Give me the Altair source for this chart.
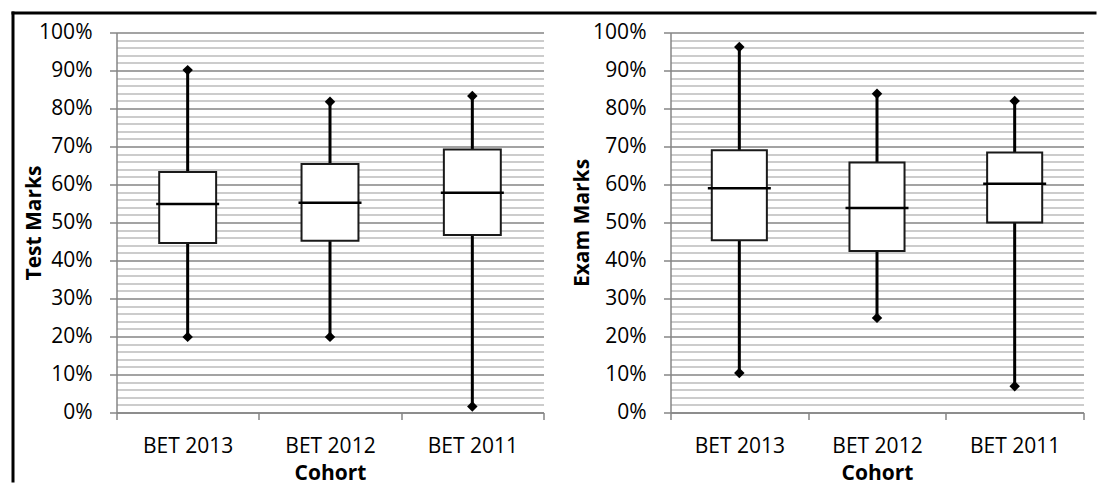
import altair as alt
import pandas as pd

cohorts = ["BET 2013", "BET 2012", "BET 2011"]

test_min = [0.199, 0.199, 0.016]
test_q1 = [0.446, 0.452, 0.467]
test_median = [0.549, 0.552, 0.578]
test_q3 = [0.633, 0.654, 0.692]
test_max = [0.901, 0.818, 0.833]

exam_min = [0.104, 0.249, 0.069]
exam_q1 = [0.453, 0.425, 0.500]
exam_median = [0.590, 0.538, 0.602]
exam_q3 = [0.690, 0.658, 0.684]
exam_max = [0.962, 0.839, 0.820]

y_ticks = [round(i * 0.02, 2) for i in range(51)]

FONT = "Open Sans"
MAJOR = "round(datum.value * 100) % 10 === 0"


def panel(mins, q1s, meds, q3s, maxs, ytitle, width, title_x, border=False):
    df = pd.DataFrame({"cohort": cohorts, "min": mins, "q1": q1s,
                       "median": meds, "q3": q3s, "max": maxs})
    xenc = alt.X(
        "cohort:N", sort=cohorts,
        scale=alt.Scale(paddingInner=0, paddingOuter=0),
        axis=alt.Axis(title="Cohort", tickBand="extent", labelAngle=0, grid=False,
                      domainColor="#868686", domainWidth=1.5,
                      tickColor="#868686", tickWidth=1.5, tickSize=7,
                      labelFont=FONT, labelFontSize=21, labelColor="black",
                      labelPadding=33, labelBaseline="alphabetic",
                      titleFont=FONT, titleFontSize=21, titleFontWeight="bold",
                      titleColor="black", titleY=66.5, titleBaseline="alphabetic"),
    )
    yaxis = alt.Axis(
        values=y_ticks, format=".0%",
        labelExpr=MAJOR + " ? datum.label : ''",
        grid=True,
        gridColor={"condition": {"test": MAJOR, "value": "#858585"}, "value": "#bbbbbb"},
        gridWidth=1.7,
        tickOpacity={"condition": {"test": MAJOR, "value": 1}, "value": 0},
        tickColor="#868686", tickWidth=1.5, tickSize=7,
        domainColor="#868686", domainWidth=1.5,
        labelFont=FONT, labelFontSize=21, labelColor="black", labelPadding=17.5,
        title=ytitle, titleFont=FONT, titleFontSize=21, titleFontWeight="bold",
        titleColor="black", titleAngle=270, titleX=title_x, titleY=190,
        titleAlign="center", titleBaseline="alphabetic",
    )
    yscale = alt.Scale(domain=[0, 1], nice=False, zero=True)
    base = alt.Chart(df).encode(x=xenc)
    whisk = base.mark_rule(color="black", strokeWidth=3, opacity=1).encode(
        y=alt.Y("min:Q", scale=yscale, axis=yaxis), y2="max:Q")
    box = base.mark_bar(width=alt.RelativeBandSize(0.4), fill="white", opacity=1,
                        stroke="#1a1a1a", strokeWidth=2).encode(
        y=alt.Y("q1:Q", scale=yscale, axis=yaxis), y2="q3:Q")
    med = base.mark_tick(size=63, thickness=2.5, color="black", opacity=1).encode(
        y=alt.Y("median:Q", scale=yscale, axis=yaxis))
    pmin = base.mark_point(shape="diamond", filled=True, size=110, color="black", opacity=1).encode(
        y=alt.Y("min:Q", scale=yscale, axis=yaxis))
    pmax = base.mark_point(shape="diamond", filled=True, size=110, color="black", opacity=1).encode(
        y=alt.Y("max:Q", scale=yscale, axis=yaxis))
    layers = [whisk, box, med, pmin, pmax]
    if border:
        one = alt.Data(values=[{"k": 0}])
        left_b = alt.Chart(one).mark_rule(color="black", strokeWidth=3).encode(
            x=alt.value(-103.5), x2=alt.value(-103.5),
            y=alt.value(-21), y2=alt.value(450))
        top_b = alt.Chart(one).mark_rule(color="black", strokeWidth=3).encode(
            x=alt.value(-105), x2=alt.value(980),
            y=alt.value(-19.5), y2=alt.value(-19.5))
        layers += [left_b, top_b]
    return alt.layer(*layers).properties(width=width, height=380)


left = panel(test_min, test_q1, test_median, test_q3, test_max, "Test Marks", 427, -76.5, border=True)
right = panel(exam_min, exam_q1, exam_median, exam_q3, exam_max, "Exam Marks", 413, -82.5)

chart = alt.hconcat(left, right, spacing=127, bounds="flush").properties(
    padding={"left": 9.5, "top": 9.5, "right": 0, "bottom": 0},
    background="white",
).configure_view(strokeWidth=0)

chart.save("out.html", embed_options={"renderer": "svg", "actions": False})
